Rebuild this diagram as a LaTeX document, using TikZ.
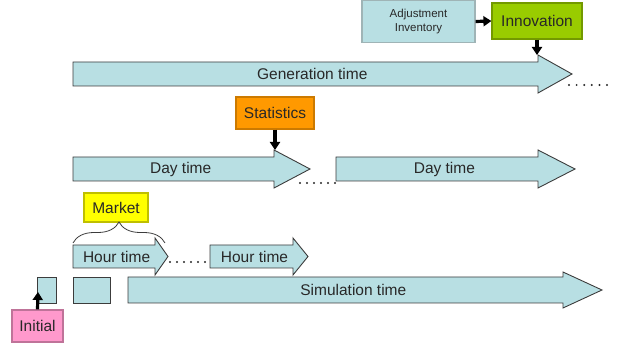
\documentclass[tikz,border=0pt]{standalone}
\usepackage{fontspec}
\setmainfont{Liberation Sans}
\usetikzlibrary{arrows.meta,decorations.pathreplacing}

\definecolor{tfill}{RGB}{184,223,227}
\definecolor{tline}{RGB}{60,60,60}
\definecolor{txt}{RGB}{40,40,40}
\definecolor{innofill}{RGB}{153,204,0}
\definecolor{statfill}{RGB}{255,153,0}
\definecolor{markfill}{RGB}{255,255,0}
\definecolor{initfill}{RGB}{255,153,204}

% time arrow: name, tail x, head x, tip x, top y, bottom y, head overhang, text
\newcommand{\timearrow}[8]{%
	\draw[tarrow] (#2,#5) -- (#3,#5) -- (#3,#5-#7) -- (#4,{(#5+#6)/2}) -- (#3,#6+#7) -- (#3,#6) -- (#2,#6) -- cycle;
	\coordinate (#1-head) at (#3,#5-#7);
	\node[tlab] (#1) at ({(#2+#3)/2+(#4-#3)/5},{(#5+#6)/2}) {#8};}

\begin{document}
\begin{tikzpicture}[x=1pt, y=-1pt, >={Triangle[length=8pt,width=10pt]},
	every node/.style={font=\fontsize{15.5}{17}\selectfont, text=txt},
	tarrow/.style={fill=tfill, draw=tline, line width=0.9pt, line join=miter},
	tlab/.style={inner sep=0pt},
	cbox/.style={draw, line width=1.2pt, inner sep=0pt, align=center},
	link/.style={->, line width=3.2pt, black}]
	\useasboundingbox (0,0) rectangle (643,347);

	% boxes on top
	\node[cbox, fill=tfill, draw=tfill!55!gray, minimum width=113pt, minimum height=42pt,
		font=\fontsize{11.5}{14}\selectfont] (adjust) at (418.5,21.5) {Adjustment\\Inventory};
	\node[cbox, fill=innofill, draw=innofill!75!black, minimum width=90pt, minimum height=36pt] (innov) at (537,21) {Innovation};
	\node[cbox, fill=statfill, draw=statfill!80!black, minimum width=78pt, minimum height=32pt] (stat) at (275,113) {Statistics};
	\node[cbox, fill=markfill, draw=markfill!75!black, minimum width=64pt, minimum height=29pt] (market) at (116,207.5) {Market};
	\node[cbox, fill=initfill, draw=initfill!75!black, minimum width=51pt, minimum height=32pt] (init) at (37.5,326) {Initial};

	% time arrows
	\timearrow{gen}{73}{538}{572}{62}{86}{7}{Generation time}
	\timearrow{dayA}{73}{274}{310}{157}{181}{7}{Day time}
	\timearrow{dayB}{336}{538}{575}{157}{181}{7}{Day time}
	\timearrow{hourA}{73}{155}{168}{245}{268}{7}{Hour time}
	\timearrow{hourB}{210}{293}{308}{245}{268}{7}{Hour time}
	\timearrow{sim}{128}{563}{602}{277}{303}{5}{Simulation time}

	\node[tarrow, minimum width=19pt, minimum height=26pt, inner sep=0pt] (stepA) at (46.5,290) {};
	\node[tarrow, minimum width=37pt, minimum height=26pt, inner sep=0pt] (stepB) at (91.5,290) {};

	% dots
	\foreach \x in {0,...,5} {
		\fill[txt] (569+7.6*\x,85) circle (1.1);
		\fill[txt] (300+7*\x,183) circle (1.1);
		\fill[txt] (170+7*\x,262) circle (1.1);
	}

	\draw[tline, line width=0.8pt, decorate, decoration={brace, amplitude=21pt}] (73,243) -- (165,243);

	% links
	\coordinate (initTip) at (38,292);
	\draw[link] (adjust.east) -- (innov.west);
	\draw[link] (innov.south) -- (innov.south |- gen-head);
	\draw[link] (stat.south) -- (stat.south |- dayA-head);
	\draw[link] (init.north) -- (initTip);
\end{tikzpicture}
\end{document}
